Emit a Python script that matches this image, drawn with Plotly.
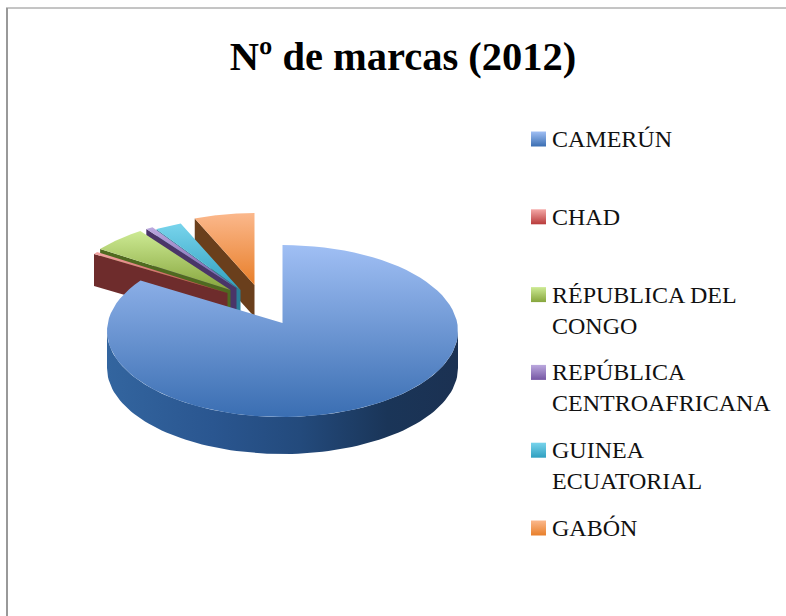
"""N. de marcas (2012): exploded 3D-look pie drawn from the slice values."""

import numpy as np
import plotly.graph_objects as go

categories = ["CAMERÚN", "CHAD", "RÉPUBLICA DEL<br>CONGO", "REPÚBLICA<br>CENTROAFRICANA",
              "GUINEA<br>ECUATORIAL", "GABÓN"]
values = [85.0, 0.5, 5.3, 0.7, 2.6, 5.9]

# top colour, bottom colour, wall colour per slice
top_colors = ["#a0bff4", "#f4a8a6", "#cdea94", "#bba8de", "#78d4ec", "#fbb88c"]
bottom_colors = ["#3a6eb2", "#b83a3a", "#86a53c", "#7556a3", "#2f9fc0", "#e87f2a"]
wall_colors = ["#24497c", "#6e2c2c", "#4f6a20", "#4a3568", "#2a7f98", "#6a3f1c"]

# slice displacement on the page, px
offsets = [(0, 0), (-55, -30), (-52, -33), (-46, -35), (-42, -33), (-28, -38)]

CX, APEX_Y, ELL_Y = 282.5, 323, 331
RX, RY, DEPTH = 175.5, 86, 37
RX_OUT, RY_OUT, DEPTH_OUT = 165, 80, 32

fig = go.Figure()


def arc(a0, a1, rx, ry, cx, cy):
    t = np.radians(np.linspace(a0, a1, 90))
    return cx + rx * np.sin(t), cy - ry * np.cos(t)


def poly(x, y, **kw):
    fig.add_trace(go.Scatter(x=list(x) + [x[0]], y=list(y) + [y[0]], mode="lines", fill="toself",
                             line=dict(width=0), hoverinfo="skip", showlegend=False, **kw))


def grad(c0, c1):
    # y axis runs downwards, the scale goes from the top of the shape to its bottom
    return dict(type="vertical", colorscale=[[0, c1], [1, c0]])


edges = np.cumsum([0] + values) / sum(values) * 360

# exploded slices, back to front
for i in range(len(values) - 1, 0, -1):
    dx, dy = offsets[i]
    ax, ay = CX + dx, APEX_Y + dy
    ex, ey = arc(edges[i], edges[i + 1], RX_OUT, RY_OUT, ax, ay + 8)
    poly([ex[0], ax, ax, ex[0]], [ey[0], ay, ay + DEPTH_OUT, ey[0] + DEPTH_OUT],
         fillcolor=wall_colors[i])
    poly(np.r_[ax, ex], np.r_[ay, ey], fillgradient=grad(top_colors[i], bottom_colors[i]))

# main slice: front wall, then top face
wx_f = np.r_[arc(90, 270, RX, RY, CX, ELL_Y)[0], arc(270, 90, RX, RY, CX, ELL_Y + DEPTH)[0]]
wy_f = np.r_[arc(90, 270, RX, RY, CX, ELL_Y)[1], arc(270, 90, RX, RY, CX, ELL_Y + DEPTH)[1]]
poly(wx_f, wy_f, fillgradient=dict(type="horizontal", colorscale=[
    [0, "#33659f"], [0.3, "#2a5690"], [0.55, "#234a7c"], [0.8, "#1a3558"], [1, "#1b3152"]]))
ex, ey = arc(edges[0], edges[1], RX, RY, CX, ELL_Y)
poly(np.r_[CX, ex], np.r_[APEX_Y, ey], fillgradient=grad(top_colors[0], bottom_colors[0]))

# legend: gradient swatch plus label
for i, label in enumerate(categories):
    y = 139 + i * 77.8
    poly([531, 546, 546, 531], [y - 7.5, y - 7.5, y + 7.5, y + 7.5],
         fillgradient=grad(top_colors[i], bottom_colors[i]))
    fig.add_annotation(x=550, y=y - 15, text=label, showarrow=False, xanchor="left", yanchor="top",
                       align="left", font=dict(family="Liberation Serif", size=24, color="#111111"))

fig.update_layout(
    width=786,
    height=616,
    margin=dict(l=0, r=0, t=0, b=0),
    paper_bgcolor="white",
    plot_bgcolor="white",
    showlegend=False,
    title=dict(text="<b>Nº de marcas (2012)</b>", x=403 / 786, xanchor="center", y=1 - 56 / 616,
               yanchor="middle", font=dict(family="Liberation Serif", size=40.5, color="#000000")),
    xaxis=dict(visible=False, range=[0, 786], fixedrange=True),
    yaxis=dict(visible=False, range=[616, 0], fixedrange=True),
    shapes=[
        dict(type="line", x0=6, x1=786, y0=8, y1=8, line=dict(color="#8a8a8a", width=1)),
        dict(type="line", x0=7, x1=7, y0=8, y1=616, line=dict(color="#999999", width=2)),
    ],
)
fig.write_html("out.html", config=dict(displayModeBar=False),
               post_script="document.body.style.margin='0';")
